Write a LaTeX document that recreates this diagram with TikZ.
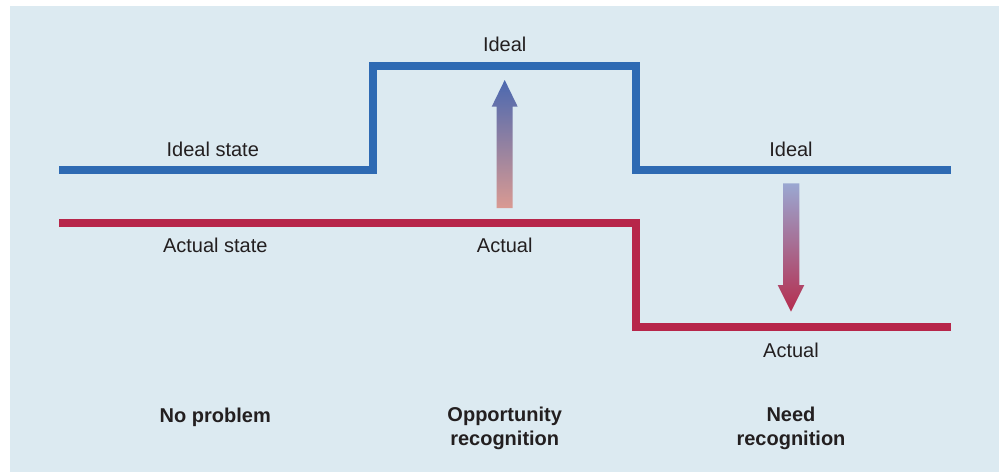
\documentclass[tikz,border=0pt]{standalone}
\usepackage{fontspec}
\setmainfont{Liberation Sans}
\definecolor{bgblue}{HTML}{DCEAF1}
\definecolor{idealblue}{HTML}{2E6AB3}
\definecolor{actualred}{HTML}{B7264A}
\definecolor{txt}{HTML}{231F20}
\definecolor{upTop}{HTML}{4A68B0}
\definecolor{upBot}{HTML}{DA9A92}
\definecolor{dnTop}{HTML}{9AA8D2}
\definecolor{dnBot}{HTML}{B52D4E}
\begin{document}
\begin{tikzpicture}[x=1pt,y=-1pt,
  lbl/.style={anchor=base,text=txt,font=\fontsize{20}{24}\selectfont,inner sep=0pt},
  blbl/.style={anchor=base,text=txt,font=\fontsize{20}{23.5}\selectfont\bfseries,inner sep=0pt,align=center},
  levelline/.style={line width=8pt,line join=miter,line cap=butt}]
\useasboundingbox (0,0) rectangle (999,472);
\fill[bgblue] (10,6) rectangle (999,472);
% ideal line
\coordinate (i0) at (59,170);
\coordinate (i1) at (373,170);
\coordinate (i2) at (373,65.5);
\coordinate (i3) at (636,65.5);
\coordinate (i4) at (636,170);
\coordinate (i5) at (951,170);
\draw[levelline,idealblue] (i0) -- (i1) -- (i2) -- (i3) -- (i4) -- (i5);
% actual line
\coordinate (a0) at (59,222.5);
\coordinate (a1) at (636,222.5);
\coordinate (a2) at (636,327);
\coordinate (a3) at (951,327);
\draw[levelline,actualred] (a0) -- (a1) -- (a2) -- (a3);
% up arrow
\shade[top color=upTop,bottom color=upBot]
  (496.7,208) -- (496.7,106.7) -- (491.7,106.7) -- (504.7,80) -- (517.7,106.7) -- (512.7,106.7) -- (512.7,208) -- cycle;
% down arrow
\shade[top color=dnTop,bottom color=dnBot]
  (783,183.3) -- (799.3,183.3) -- (799.3,285) -- (804.3,285) -- (791,311.7) -- (777.7,285) -- (783,285) -- cycle;
% labels
\node[lbl] (idealstate) at (212.8,156) {Ideal state};
\node[lbl] (idealmid) at (504.7,51) {Ideal};
\node[lbl] (idealright) at (791,156) {Ideal};
\node[lbl] (actualstate) at (215.3,252.7) {Actual state};
\node[lbl] (actualmid) at (504.7,252.7) {Actual};
\node[lbl] (actualright) at (791,357.7) {Actual};
\node[blbl] (noproblem) at (215.3,422) {No problem};
\node[blbl] (opp) at (504.7,445) {Opportunity\\recognition};
\node[blbl] (need) at (791,445) {Need\\recognition};
\end{tikzpicture}
\end{document}
